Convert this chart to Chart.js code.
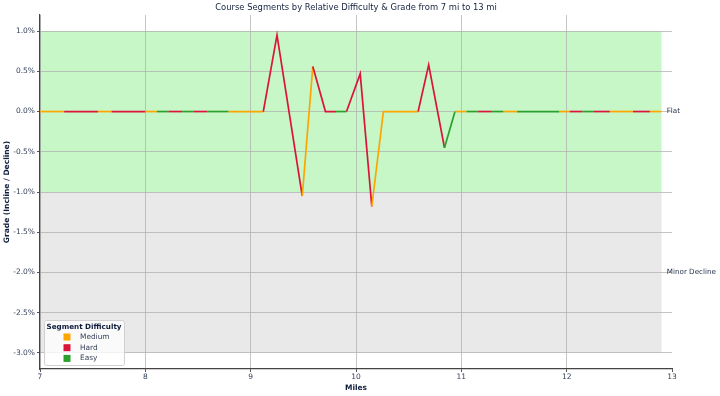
<!DOCTYPE html>
<html>
<head>
<meta charset="utf-8">
<script src="https://cdn.jsdelivr.net/npm/chart.js@4.4.1/dist/chart.umd.min.js"></script>
<style>
html,body{margin:0;padding:0;background:#fff;}
#wrap{width:720px;height:396px;position:relative;}
</style>
</head>
<body>
<div id="wrap"><canvas id="c" width="720" height="396"></canvas></div>
<script>
// ---- data ----
const titleText = 'Course Segments by Relative Difficulty & Grade from 7 mi to 13 mi';
const miles = [7.0, 7.23, 7.55, 7.68, 8.0, 8.11, 8.22, 8.35, 8.46, 8.59, 8.79, 9.12, 9.25, 9.49, 9.59, 9.71, 9.81, 9.91, 10.04, 10.15, 10.26, 10.59, 10.69, 10.84, 10.94, 11.05, 11.16, 11.29, 11.40, 11.53, 11.93, 12.03, 12.15, 12.26, 12.41, 12.63, 12.79, 12.90];
const grades = [0,0,0,0,0,0,0,0,0,0,0,0, 0.95, -1.05, 0.56, 0, 0, 0, 0.47, -1.18, 0, 0, 0.58, -0.45, 0,0,0,0,0,0,0,0,0,0,0,0,0,0];
const segmentDifficulty = ['Medium','Hard','Medium','Hard','Medium','Easy','Hard','Easy','Hard','Easy','Medium',
  'Hard','Hard','Medium','Hard','Hard','Easy','Hard','Hard','Medium','Medium','Hard','Hard','Easy',
  'Medium','Easy','Hard','Easy','Medium','Easy','Medium','Hard','Easy','Hard','Medium','Hard','Medium'];
const difficultyNames = ['Medium','Hard','Easy'];
const difficultyColors = ['#FFA500','#DC143C','#2CA02C'];
const bandNames = ['Flat','Minor Decline'];
const bandTop = [1.0, -1.0];
const bandBottom = [-1.0, -3.0];
const bandColors = ['rgba(144,238,144,0.5)','rgba(211,211,211,0.5)'];
const bandXStart = 7.0, bandXEnd = 12.9, bandLabelX = 12.95;
const xTicks = [7,8,9,10,11,12,13];
const yTicks = [1.0,0.5,0.0,-0.5,-1.0,-1.5,-2.0,-2.5,-3.0];

const FONT = "'DejaVu Sans', sans-serif";
const tickColor = '#36435a';
const navy = '#0f1e3c';

const colorOf = d => difficultyColors[difficultyNames.indexOf(d)];

const bandPlugin = {
  id: 'bands',
  beforeDraw(chart) {
    const {ctx, scales:{x, y}} = chart;
    ctx.save();
    for (let i = 0; i < bandNames.length; i++) {
      const x0 = x.getPixelForValue(bandXStart), x1 = x.getPixelForValue(bandXEnd);
      const y0 = y.getPixelForValue(bandTop[i]), y1 = y.getPixelForValue(bandBottom[i]);
      ctx.fillStyle = bandColors[i];
      ctx.fillRect(x0, y0, x1 - x0, y1 - y0);
    }
    ctx.restore();
  },
  afterDraw(chart) {
    const {ctx, scales:{x, y}, chartArea} = chart;
    ctx.save();
    // band labels
    ctx.font = `7.2px ${FONT}`;
    ctx.fillStyle = '#2a3550';
    ctx.textAlign = 'left';
    ctx.textBaseline = 'middle';
    for (let i = 0; i < bandNames.length; i++) {
      ctx.fillText(bandNames[i], x.getPixelForValue(bandLabelX), y.getPixelForValue((bandTop[i] + bandBottom[i]) / 2));
    }
    // title
    ctx.font = `8.4px ${FONT}`;
    ctx.fillStyle = '#14223f';
    ctx.textAlign = 'center';
    ctx.fillText(titleText, (chartArea.left + chartArea.right) / 2, 8);
    // legend
    const bx = chartArea.left + 4, bw = 80, bh = 45;
    const by = chartArea.bottom - 4 - bh;
    ctx.fillStyle = 'rgba(255,255,255,0.8)';
    ctx.strokeStyle = '#d0d0d0';
    ctx.lineWidth = 1;
    ctx.beginPath();
    ctx.roundRect(bx + 0.5, by + 0.5, bw, bh, 2);
    ctx.fill();
    ctx.stroke();
    ctx.font = `bold 7.2px ${FONT}`;
    ctx.fillStyle = navy;
    ctx.textAlign = 'center';
    ctx.fillText('Segment Difficulty', bx + bw / 2, by + 7);
    ctx.font = `7.4px ${FONT}`;
    ctx.textAlign = 'left';
    for (let i = 0; i < difficultyNames.length; i++) {
      const cy = by + 17 + i * 10.7;
      ctx.fillStyle = difficultyColors[i];
      ctx.fillRect(bx + 19.5, cy - 3.5, 7, 7);
      ctx.fillStyle = '#36435a';
      ctx.fillText(difficultyNames[i], bx + 36, cy);
    }
    ctx.restore();
  }
};

new Chart(document.getElementById('c'), {
  type: 'line',
  data: {
    datasets: [{
      data: miles.map((m, i) => ({x: m, y: grades[i]})),
      borderWidth: 1.7,
      pointRadius: 0,
      tension: 0,
      fill: false,
      borderColor: '#DC143C',
      segment: {
        borderColor: ctx => colorOf(segmentDifficulty[ctx.p0DataIndex])
      }
    }]
  },
  options: {
    responsive: false,
    animation: false,
    layout: {padding: {left: 0, right: 48, top: 15, bottom: 0}},
    plugins: {legend: {display: false}, tooltip: {enabled: false}, title: {display: false}},
    scales: {
      x: {
        type: 'linear', min: 7, max: 13,
        afterBuildTicks: s => { s.ticks = xTicks.map(v => ({value: v})); },
        afterFit: s => { s.height = 27; },
        ticks: {font: {family: FONT, size: 7.5}, color: tickColor, padding: 1, maxRotation: 0},
        grid: {
          color: c => (c.tick && c.tick.value === 13) ? 'rgba(0,0,0,0)' : 'rgba(176,176,176,0.75)',
          lineWidth: 1, tickLength: 3, tickColor: '#555'
        },
        border: {display: true, color: '#444', width: 1.2},
        title: {display: true, text: 'Miles', font: {family: FONT, size: 7.5, weight: 'bold'}, color: navy, padding: {top: 0, bottom: 3}}
      },
      y: {
        type: 'linear', min: -3.2, max: 1.2,
        afterBuildTicks: s => { s.ticks = yTicks.map(v => ({value: v})); },
        afterFit: s => { s.width = 40; },
        ticks: {font: {family: FONT, size: 7.5}, color: tickColor, padding: 2, callback: v => v.toFixed(1) + '%'},
        grid: {color: 'rgba(176,176,176,0.75)', lineWidth: 1, tickLength: 3, tickColor: '#555'},
        border: {display: true, color: '#444', width: 1.2},
        title: {display: true, text: 'Grade (Incline / Decline)', font: {family: FONT, size: 7.5, weight: 'bold'}, color: navy, padding: {top: 3, bottom: 0}}
      }
    }
  },
  plugins: [bandPlugin]
});
</script>
</body>
</html>
